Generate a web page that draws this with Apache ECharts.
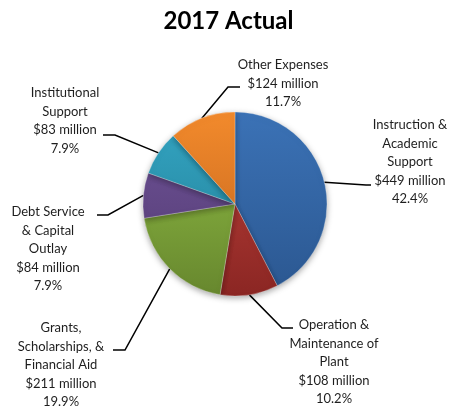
<!DOCTYPE html>
<html>
<head>
<meta charset="utf-8">
<script src="https://cdn.jsdelivr.net/npm/echarts@6/dist/echarts.min.js"></script>
<style>
  html, body { margin: 0; padding: 0; background: #fff; }
  #chart { width: 457px; height: 412px; }
</style>
</head>
<body>
<div id="chart"></div>
<script>
// 2017 Actual - expenses
const categories = [
  'Instruction &\nAcademic\nSupport',
  'Operation &\nMaintenance of\nPlant',
  'Grants,\nScholarships, &\nFinancial Aid',
  'Debt Service\n& Capital\nOutlay',
  'Institutional\nSupport',
  'Other Expenses'
]
const millions = [449, 108, 211, 84, 83, 124]
const percents = ['42.4%', '10.2%', '19.9%', '7.9%', '7.9%', '11.7%']

// gradient colours, top -> bottom
const topColors = ['#3b72b6', '#c0433d', '#92c046', '#71549a', '#34a6c4', '#f28a2c']
const bottomColors = ['#2b5790', '#8b2623', '#67872e', '#513a70', '#217b92', '#c0621c']

// where each label block goes (text centre x, top y) and its leader line elbow/end
const labelPos = [
  { x: 410, y: 116, elbow: [366, 185], end: [371, 185] },
  { x: 334, y: 316, elbow: [282, 328], end: [293, 328] },
  { x: 61, y: 319, elbow: [125, 350], end: [113, 350] },
  { x: 48, y: 203, elbow: [108, 215], end: [97, 215] },
  { x: 65, y: 84, elbow: [115, 135], end: [103, 135] },
  { x: 283, y: 56, elbow: [228, 87], end: [240, 87] }
]

const cx = 235
const cy = 204
const r = 92

let chart = echarts.init(document.getElementById('chart'))
chart.setOption({
  animation: false,
  title: {
    text: '2017 Actual',
    left: 'center',
    top: 4,
    textStyle: {
      fontFamily: 'Lato',
      fontWeight: 'bold',
      fontSize: 24,
      color: '#000'
    }
  },
  series: [
    {
      type: 'pie',
      center: [cx, cy],
      radius: r,
      startAngle: 90,
      clockwise: true,
      data: categories.map(function (name, i) {
        return {
          name: name,
          value: millions[i],
          itemStyle: {
            color: {
              type: 'linear',
              x: 0,
              y: cy - r,
              x2: 0,
              y2: cy + r,
              global: true,
              colorStops: [
                { offset: 0, color: topColors[i] },
                { offset: 1, color: bottomColors[i] }
              ]
            }
          }
        }
      }),
      itemStyle: {
        borderColor: 'rgba(255,255,255,0.45)',
        borderWidth: 0.6,
        shadowBlur: 6,
        shadowOffsetY: 2,
        shadowColor: 'rgba(0,0,0,0.35)'
      },
      label: {
        show: true,
        formatter: function (p) {
          return p.name + '\n$' + millions[p.dataIndex] + ' million\n' + percents[p.dataIndex]
        },
        fontFamily: 'Lato',
        fontSize: 13,
        lineHeight: 18.5,
        color: '#1e1e1e',
        align: 'center',
        overflow: 'none',
        width: 120
      },
      labelLine: {
        show: true,
        lineStyle: { color: '#000', width: 1.5 }
      },
      labelLayout: function (params) {
        let pos = labelPos[params.dataIndex]
        let start = params.labelLinePoints ? params.labelLinePoints[0] : pos.elbow
        return {
          x: pos.x,
          y: pos.y,
          align: 'center',
          verticalAlign: 'top',
          labelLinePoints: [start, pos.elbow, pos.end]
        }
      }
    }
  ]
})
</script>
</body>
</html>
